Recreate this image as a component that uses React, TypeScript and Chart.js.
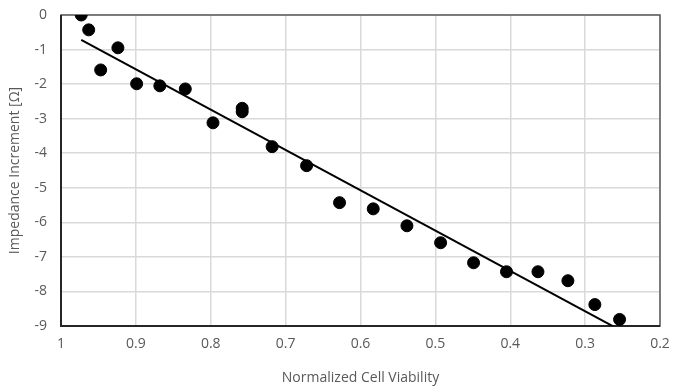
import React, { useEffect, useRef } from "react";
import { Chart, registerables } from "chart.js";

Chart.register(...registerables);

const viability = [0.973, 0.963, 0.947, 0.924, 0.899, 0.868, 0.834, 0.797, 0.758, 0.758, 0.718, 0.672, 0.628, 0.583, 0.538, 0.493, 0.449, 0.405, 0.363, 0.323, 0.287, 0.254];
const impedance = [0, -0.43, -1.59, -0.95, -1.99, -2.05, -2.14, -3.12, -2.7, -2.8, -3.81, -4.36, -5.43, -5.61, -6.1, -6.59, -7.17, -7.43, -7.43, -7.69, -8.38, -8.81];
const trendX = [0.973, 0.254];
const trendY = [-0.72, -9.11];
const xTitle = "Normalized Cell Viability";
const yTitle = "Impedance Increment [Ω]";

const FONT = "'Open Sans', 'Liberation Sans', sans-serif";
const TXT = "#595959";

const frame = {
  id: "frame",
  beforeDatasetsDraw(chart: any) {
    const { ctx, chartArea: a } = chart;
    ctx.save();
    ctx.strokeStyle = "#595959";
    ctx.lineWidth = 1.5;
    ctx.strokeRect(a.left, a.top, a.right - a.left, a.bottom - a.top);
    ctx.strokeStyle = "#262626";
    ctx.lineWidth = 2;
    ctx.beginPath();
    ctx.moveTo(a.left, a.top);
    ctx.lineTo(a.left, a.bottom);
    ctx.lineTo(a.right, a.bottom);
    ctx.stroke();
    ctx.restore();
  },
};

export default function App() {
  const ref = useRef<HTMLCanvasElement>(null);
  useEffect(() => {
    document.body.style.margin = "0";
    const chart = new Chart(ref.current!, {
      type: "scatter",
      data: {
        datasets: [
          {
            data: viability.map((x, i) => ({ x, y: impedance[i] })),
            backgroundColor: "#000",
            borderColor: "#000",
            pointRadius: 6,
            pointHoverRadius: 6,
            order: 1,
          },
          {
            type: "line",
            data: trendX.map((x, i) => ({ x, y: trendY[i] })),
            borderColor: "#000",
            borderWidth: 2,
            pointRadius: 0,
            fill: false,
            order: 0,
          } as any,
        ],
      },
      options: {
        animation: false,
        responsive: false,
        layout: { padding: { top: 15, right: 13, left: 0, bottom: 0 } },
        plugins: { legend: { display: false }, tooltip: { enabled: false } },
        scales: {
          x: {
            type: "linear",
            reverse: true,
            min: 0.2,
            max: 1,
            afterFit: (s: any) => { s.height = 60; s.paddingLeft = 0; s.paddingRight = 0; },
            ticks: {
              stepSize: 0.1,
              color: TXT,
              font: { family: FONT, size: 14 },
              padding: 10,
              maxRotation: 0,
              callback: (v: any) => String(Math.round(Number(v) * 10) / 10),
            },
            grid: { color: "#d9d9d9", lineWidth: 1.5, drawTicks: false },
            border: { display: false },
            title: { display: true, text: xTitle, color: TXT, font: { family: FONT, size: 14 }, padding: { top: 2, bottom: 0 } },
          },
          y: {
            type: "linear",
            min: -9,
            max: 0,
            afterFit: (s: any) => { s.width = 61; s.paddingTop = 0; s.paddingBottom = 0; },
            ticks: {
              stepSize: 1,
              color: TXT,
              font: { family: FONT, size: 14 },
              padding: 14,
            },
            grid: { color: "#d9d9d9", lineWidth: 1.5, drawTicks: false },
            border: { display: false },
            title: { display: true, text: yTitle, color: TXT, font: { family: FONT, size: 14 }, padding: { top: 7, bottom: 0 } },
          },
        },
      },
      plugins: [frame],
    });
    return () => chart.destroy();
  }, []);
  return (
    <div style={{ width: 673, height: 386 }}>
      <canvas ref={ref} width={673} height={386} style={{ width: 673, height: 386, display: "block" }} />
    </div>
  );
}
